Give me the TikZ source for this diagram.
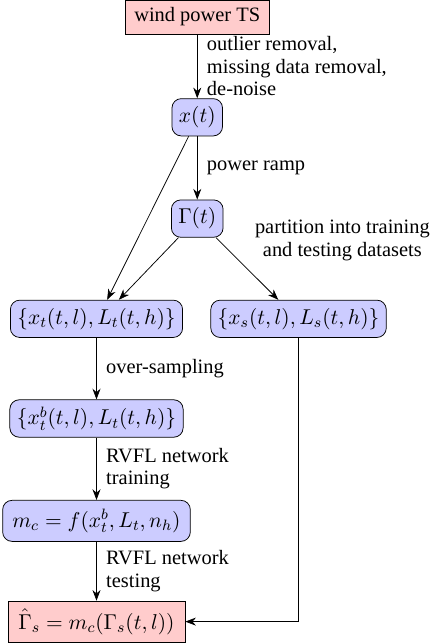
\RequirePackage{fix-cm}
\documentclass[tikz,border=0pt]{standalone}
\usepackage{amsmath}
\usepackage{fontspec}
\setmainfont{Liberation Serif}
\usepackage{tikz}
\usetikzlibrary{positioning,arrows.meta,calc}

\begin{document}
\begin{tikzpicture}[
  every node/.append style={font=\rmfamily\fontsize{10.9}{12}\selectfont},
  blk/.style={draw, rounded corners=5pt, fill=blue!20, inner sep=3.7pt,
              minimum height=7mm, font=\rmfamily\fontsize{11.45}{12}\selectfont},
  res/.style={draw, fill=red!20, inner sep=4pt, minimum height=6.4mm},
  arr/.style={-{Stealth[length=2mm]}},
  lab/.style={align=left, anchor=west, inner sep=1pt},
]
\useasboundingbox (0,0) rectangle (8.14,-12.08);
% top: raw series and preprocessing
\node[res, minimum width=27mm] (ts) at (3.70,-0.32) {wind power TS};
\node[blk] (xt) at (3.70,-2.20) {$x(t)$};
\node[blk] (gam) at (3.70,-4.10) {$\Gamma(t)$};

% split into training and testing sets
\node[blk] (trn) at (1.81,-5.98) {$\{x_t(t,l),L_t(t,h)\}$};
\node[blk] (tst) at (5.60,-5.98) {$\{x_s(t,l),L_s(t,h)\}$};

% training branch
\node[blk] (bal) at (1.81,-7.85) {$\{x^b_t(t,l),L_t(t,h)\}$};
\node[blk, minimum height=7.7mm, inner xsep=5.2pt] (mdl) at (1.81,-9.77) {$m_c=f(x^b_t,L_t,n_h)$};
\node[res, minimum height=7.7mm, inner xsep=5.5pt, font=\rmfamily\fontsize{11.45}{12}\selectfont]
  (out) at (1.81,-11.66) {$\hat{\Gamma}_s=m_c(\Gamma_s(t,l))$};

\draw[arr] (ts) -- node[lab, xshift=4pt] {outlier removal,\\missing data removal,\\de-noise} (xt);
\draw[arr] (xt) -- node[lab, xshift=4pt] {power ramp} (gam);
\draw[arr] ($(xt.south west)+(0.32,0)$) -- ($(trn.north)+(0.2,0)$);
\draw[arr] ($(gam.south west)+(0.14,0)$) -- ($(trn.north)+(0.42,0)$);
\draw[arr] ($(gam.south east)+(-0.14,0)$) -- node[above right, align=center, inner sep=4pt]
  {partition into training\\and testing datasets} ($(tst.north)+(-0.38,0)$);
\draw[arr] (trn) -- node[lab, xshift=4pt] {over-sampling} (bal);
\draw[arr] (bal) -- node[lab, xshift=4pt] {RVFL network\\training} (mdl);
\draw[arr] (mdl) -- node[lab, xshift=4pt] {RVFL network\\testing} (out);
\draw[arr] (tst.south) |- (out.east);
\end{tikzpicture}
\end{document}
